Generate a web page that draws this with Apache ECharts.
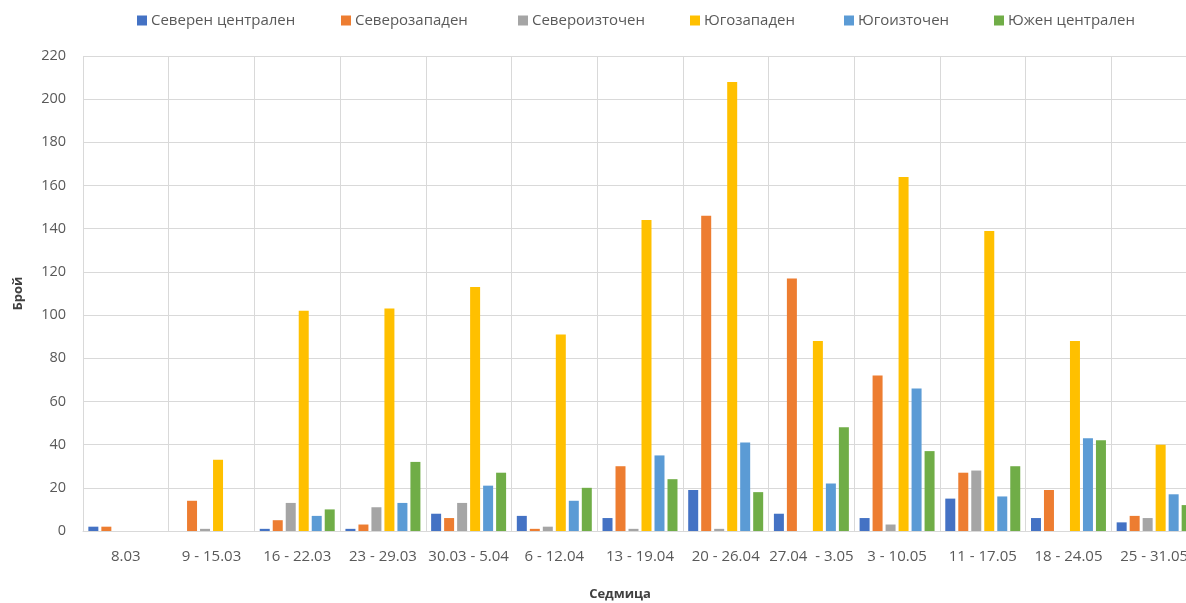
<!DOCTYPE html>
<html>
<head>
<meta charset="utf-8">
<script src="https://cdn.jsdelivr.net/npm/echarts@6/dist/echarts.min.js"></script>
<style>
html,body{margin:0;padding:0;background:#fff;}
#chart{width:1186px;height:603px;}
</style>
</head>
<body>
<div id="chart"></div>
<script>
const categories = ['8.03','9 - 15.03','16 - 22.03','23 - 29.03','30.03 - 5.04','6 - 12.04','13 - 19.04','20 - 26.04','27.04  - 3.05','3 - 10.05','11 - 17.05','18 - 24.05','25 - 31.05'];
const seriesNames = ['Северен централен','Северозападен','Североизточен','Югозападен','Югоизточен','Южен централен'];
const severenCentralen = [2, 0, 1, 1, 8, 7, 6, 19, 8, 6, 15, 6, 4];
const severozapaden    = [2, 14, 5, 3, 6, 1, 30, 146, 117, 72, 27, 19, 7];
const severoiztochen   = [0, 1, 13, 11, 13, 2, 1, 1, 0, 3, 28, 0, 6];
const yugozapaden      = [0, 33, 102, 103, 113, 91, 144, 208, 88, 164, 139, 88, 40];
const yugoiztochen     = [0, 0, 7, 13, 21, 14, 35, 41, 22, 66, 16, 43, 17];
const yuzhenCentralen  = [0, 0, 10, 32, 27, 20, 24, 18, 48, 37, 30, 42, 12];
const yTicks = [0, 20, 40, 60, 80, 100, 120, 140, 160, 180, 200, 220];

const colors = ['#4472C4','#ED7D31','#A5A5A5','#FFC000','#5B9BD5','#70AD47'];
const allData = [severenCentralen, severozapaden, severoiztochen, yugozapaden, yugoiztochen, yuzhenCentralen];
const legendLeft = [137, 341, 518, 690, 844, 994];

const chart = echarts.init(document.getElementById('chart'), null, {renderer:'canvas'});
const font = "'Open Sans', 'Noto Sans', sans-serif";
chart.setOption({
  animation: false,
  color: colors,
  textStyle: {fontFamily: font},
  legend: seriesNames.map((n, i) => ({
    top: 13,
    left: legendLeft[i],
    padding: 0,
    itemWidth: 10,
    itemHeight: 10,
    icon: 'rect',
    textStyle: {color: '#595959', fontSize: 15, fontFamily: font, padding: [0, 0, 0, -1]},
    data: [n]
  })),
  grid: {left: 83, top: 56, bottom: 72, right: -11, containLabel: false, outerBoundsMode: 'none'},
  xAxis: {
    type: 'category',
    data: categories,
    boundaryGap: true,
    axisTick: {show: false},
    axisLine: {show: true, lineStyle: {color: '#d9d9d9'}},
    splitLine: {show: true, lineStyle: {color: '#d9d9d9'}},
    axisLabel: {color: '#595959', fontSize: 15, margin: 18, fontFamily: font, interval: 0},
    name: 'Седмица',
    nameLocation: 'middle',
    nameGap: 57,
    nameTextStyle: {color: '#404040', fontSize: 13, fontWeight: 'bold', fontFamily: font, padding: [0, 40, 0, 0]}
  },
  yAxis: {
    type: 'value',
    min: yTicks[0],
    max: yTicks[yTicks.length-1],
    interval: yTicks[1]-yTicks[0],
    axisLine: {show: false},
    axisTick: {show: false},
    splitLine: {lineStyle: {color: '#d9d9d9'}},
    axisLabel: {color: '#595959', fontSize: 14.5, margin: 17, fontFamily: font},
    name: 'Брой',
    nameLocation: 'middle',
    nameRotate: 90,
    nameGap: 58,
    nameTextStyle: {color: '#404040', fontSize: 13, fontWeight: 'bold', fontFamily: font}
  },
  series: seriesNames.map((n, i) => ({
    name: n,
    type: 'bar',
    data: allData[i],
    barGap: '30%',
    barCategoryGap: '12.5%',
    itemStyle: {color: colors[i]}
  }))
});
</script>
</body>
</html>
